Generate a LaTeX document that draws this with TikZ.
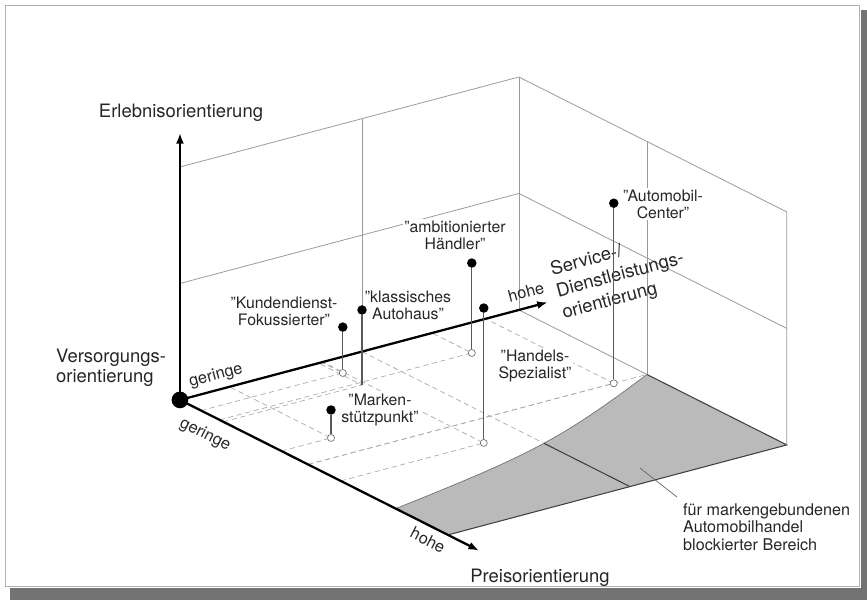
\documentclass[tikz,border=0pt]{standalone}
\usepackage{fontspec}
\setmainfont{TeX Gyre Heros}
\usetikzlibrary{arrows.meta}

\begin{document}
\begin{tikzpicture}[x=0.02cm, y=-0.02cm, >={Latex[length=6pt,width=4.5pt]},
    box3d/.style={shift={(3.6cm,-8cm)}, x={(6.78cm,1.8cm)}, y={(5.36cm,-2.7cm)}, z={(0cm,4.66cm)}},
    mainaxis/.style={line width=1.3pt, ->},
    wall/.style={gray!80, line width=0.45pt},
    floorline/.style={gray!65, densely dashed, line width=0.4pt},
    stem/.style={black!65, line width=0.6pt},
    blob/.style={circle, fill=black, inner sep=0pt, minimum size=5.4pt},
    foot/.style={circle, draw=black!55, fill=white, line width=0.4pt, inner sep=0pt, minimum size=4pt},
    typlbl/.style={align=center, fill=white, inner sep=1pt, text=black!85, font=\fontsize{9}{9.6}\selectfont},
    axlbl/.style={text=black!85, font=\fontsize{10.5}{11.5}\selectfont},
    ticklbl/.style={text=black!85, inner sep=0pt, font=\fontsize{9.3}{10}\selectfont}]

    \useasboundingbox (0,0) rectangle (867,600);

    % Frame with shadow
    \fill[black!55] (861,10) rectangle (867,600);
    \fill[black!55] (10,588) rectangle (867,600);
    \draw[gray!60, line width=0.5pt] (5,5) rectangle (859,586);

    % Half steps of the box
    \def\am{0.537}
    \def\bm{0.478}

    \begin{scope}[box3d]
        \coordinate (O) at (0,0,0);
        \coordinate (erl) at (0,0,1.146);
        \coordinate (ser) at (1.085,0,0);
        \coordinate (pre) at (0,1.116,0);

        % Blocked area on the floor
        \fill[black!27] (1,\bm,0) -- (1,1,0) -- (0,1,0) -- (0,0.805,0)
            .. controls (0.465,0.7175,0) and (0.581,0.683,0) .. (1,\bm,0) -- cycle;
        \draw[black!55, line width=0.4pt] (0,0.805,0) .. controls (0.465,0.7175,0) and (0.581,0.683,0) .. (1,\bm,0);
        \draw[black!75, line width=0.6pt] (1,\bm,0) -- (1,1,0) -- (0,1,0);
        \draw[black!75, line width=0.6pt] (\am,0.679,0) -- (\am,1,0);

        % Walls
        \draw[wall] (0,0,1) -- (1,0,1) -- (1,1,1) -- (1,1,0);
        \draw[wall] (1,0,0) -- (1,0,1);
        \draw[wall] (1,0,0) -- (1,\bm,0);
        \draw[wall] (0,0,0.5) -- (1,0,0.5) -- (1,1,0.5);
        \draw[wall] (\am,0,0) -- (\am,0,1);
        \draw[wall] (1,\bm,0) -- (1,\bm,1);

        % Floor grid
        \draw[floorline] (\am,0,0) -- (\am,0.679,0);
        \draw[floorline] (0,\bm,0) -- (1,\bm,0);
        \foreach \pa/\pb in {0.418/0.079, 0.409/0.162, 0.744/0.148, 0.422/0.600, 0.902/\bm, 0.146/0.379}
            \draw[floorline] (0,\pb,0) -- (\pa,\pb,0) -- (\pa,0,0);
    \end{scope}

    % Type labels
    \node[typlbl] (kunlbl) at (284,311) {"Kundendienst-\\Fokussierter"};
    \node[typlbl] (klalbl) at (408,305) {"klassisches\\Autohaus"};
    \node[typlbl] (amblbl) at (455,235) {"ambitionierter\\Händler"};
    \node[typlbl] (autlbl) at (663,204) {"Automobil-\\Center"};
    \node[typlbl] (hanlbl) at (535,366) {"Handels-\\Spezialist"};
    \node[typlbl] (marlbl) at (380,410) {"Marken-\\stützpunkt"};

    % Axis labels
    \node[axlbl] (erllbl) at (181,113) {Erlebnisorientierung};
    \node[axlbl, align=left, anchor=west] (verlbl) at (50,368) {Versorgungs-\\orientierung};
    \node[axlbl, align=left, anchor=west, rotate=15, font=\fontsize{10.5}{12.8}\selectfont] (serlbl) at (551,294) {Service-/\\Dienstleistungs-\\orientierung};
    \node[axlbl] (prelbl) at (540,578) {Preisorientierung};
    \node[ticklbl, rotate=15] (sergering) at (216,376) {geringe};
    \node[ticklbl, rotate=15] (serhohe) at (526,292) {hohe};
    \node[ticklbl, rotate=-27] (pregering) at (205,435) {geringe};
    \node[ticklbl, rotate=-27] (prehohe) at (428,540) {hohe};

    % Blocked area label
    \node[align=left, anchor=north west, text=black!85, font=\fontsize{9.2}{10.2}\selectfont] (blklbl) at (677,497)
        {für markengebundenen\\Automobilhandel\\blockierter Bereich};
    \coordinate (blk) at (640,468);
    \draw[black!60, line width=0.4pt] (blk) -- (blklbl.north west);

    \begin{scope}[box3d]
        % Axes
        \draw[mainaxis] (O) -- (erl);
        \draw[mainaxis] (O) -- (ser);
        \draw[mainaxis] (O) -- (pre);
        \node[circle, fill=black, inner sep=0pt, minimum size=9.5pt] (orig) at (O) {};

        % Types: foot on the floor, dot above it
        \foreach \n/\pa/\pb/\ph in {kun/0.418/0.079/0.197, amb/0.744/0.148/0.386, han/0.422/0.600/0.579, aut/0.902/\bm/0.773, mar/0.146/0.379/0.120}
        {
            \node[foot] (\n foot) at (\pa,\pb,0) {};
            \node[blob] (\n dot) at (\pa,\pb,\ph) {};
            \draw[stem] (\n dot) -- (\n foot);
        }
        \coordinate (kla foot) at (0.409,0.162,0);
        \node[blob] (kla dot) at (0.409,0.162,0.322) {};
        \draw[stem] (kla dot) -- (kla foot);
    \end{scope}

\end{tikzpicture}
\end{document}
